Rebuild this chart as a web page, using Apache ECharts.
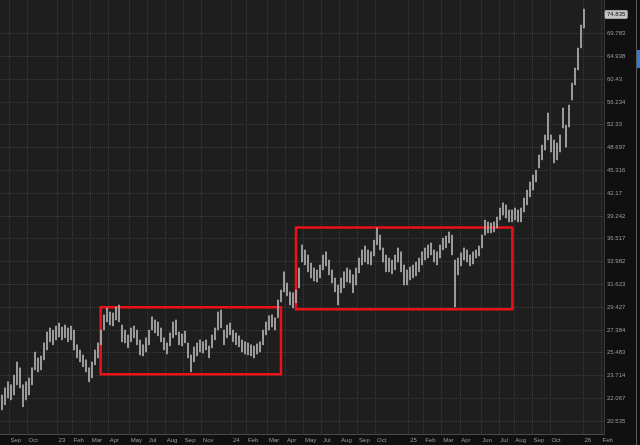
<!DOCTYPE html>
<html>
<head>
<meta charset="utf-8">
<script src="https://cdn.jsdelivr.net/npm/echarts@6/dist/echarts.min.js"></script>
<style>
  html, body { margin: 0; padding: 0; background: #101010; }
  #chart { width: 640px; height: 445px; }
</style>
</head>
<body>
<div id="chart"></div>
<script>
// bar highs / lows (one bar per ~3px)
const highs = [
  22.30, 22.80, 23.24, 23.02, 23.74, 24.75, 24.29, 23.02, 23.24, 23.53,
  24.29, 25.53, 25.06, 25.22, 26.28, 27.20, 27.55, 27.37, 27.72, 27.99,
  27.63, 27.81, 27.55, 27.72, 27.37, 26.12, 25.70, 25.30, 24.91, 24.29,
  24.75, 25.70, 26.28, 27.37, 28.71, 29.34, 28.98, 28.89, 29.43, 29.62,
  27.81, 27.37, 26.95, 27.55, 27.72, 27.37, 26.53, 26.12, 26.70, 27.37,
  28.53, 28.26, 28.08, 27.55, 26.70, 26.28, 27.12, 28.08, 28.26, 27.20,
  27.03, 27.28, 26.28, 25.30, 25.95, 26.28, 26.53, 26.37, 26.53, 26.03,
  26.95, 27.55, 28.98, 29.16, 27.37, 27.81, 27.99, 27.37, 27.12, 26.87,
  26.53, 26.37, 26.28, 26.12, 26.03, 26.20, 26.37, 27.37, 28.08, 28.62,
  28.71, 28.44, 30.10, 31.06, 32.89, 31.75, 30.87, 30.78, 31.06, 33.30,
  35.81, 35.25, 34.69, 33.82, 33.30, 33.09, 33.61, 34.69, 35.03, 34.14,
  33.09, 32.26, 31.55, 32.26, 32.89, 33.30, 33.09, 32.58, 33.30, 34.36,
  35.25, 35.69, 35.25, 35.03, 36.36, 37.78, 36.95, 35.47, 34.69, 34.36,
  34.14, 34.69, 35.47, 35.03, 33.61, 33.09, 33.40, 33.61, 33.92, 34.36,
  35.03, 35.47, 35.81, 36.03, 35.25, 35.03, 35.81, 36.59, 36.83, 37.31,
  36.95, 34.14, 34.36, 34.92, 35.47, 35.25, 34.69, 35.03, 35.25, 35.69,
  36.95, 38.74, 38.50, 38.38, 38.50, 39.10, 40.24, 40.89, 40.63, 39.99,
  39.99, 40.24, 39.99, 40.24, 41.53, 42.58, 43.69, 44.65, 45.35, 47.57,
  49.08, 50.67, 54.32, 50.67, 49.88, 49.40, 50.67, 55.17, 52.27, 55.69,
  59.69, 62.60, 66.68, 71.70, 75.40
]
const lows = [
  21.27, 21.61, 22.08, 21.95, 22.30, 23.02, 22.80, 21.48, 21.95, 22.30,
  23.02, 24.13, 23.98, 24.13, 24.91, 25.70, 26.37, 26.12, 26.53, 26.78,
  26.53, 26.70, 26.37, 26.53, 25.70, 25.06, 24.75, 24.37, 23.98, 23.24,
  23.53, 24.52, 25.06, 26.12, 27.37, 28.08, 27.81, 27.72, 28.26, 28.08,
  26.37, 26.28, 25.87, 26.37, 26.70, 26.12, 25.30, 25.22, 25.53, 26.12,
  27.37, 27.12, 26.87, 26.37, 25.70, 25.37, 26.03, 26.70, 26.95, 26.12,
  26.03, 26.28, 25.06, 23.98, 24.75, 25.22, 25.53, 25.45, 25.70, 25.06,
  25.87, 26.53, 27.37, 27.55, 26.12, 26.70, 26.95, 26.37, 26.12, 25.95,
  25.53, 25.37, 25.30, 25.22, 25.06, 25.37, 25.53, 26.12, 26.95, 27.37,
  27.63, 27.37, 28.44, 29.91, 30.87, 30.49, 29.62, 29.34, 29.81, 31.26,
  33.92, 33.61, 32.89, 32.26, 31.95, 31.85, 32.26, 33.09, 33.51, 32.58,
  31.75, 30.87, 29.62, 30.78, 31.26, 31.85, 31.75, 30.78, 31.55, 32.78,
  33.61, 33.92, 33.71, 33.61, 34.58, 35.81, 35.25, 33.92, 32.89, 32.89,
  32.68, 33.09, 33.92, 32.89, 31.55, 31.55, 32.06, 32.26, 32.47, 32.89,
  33.61, 34.14, 34.36, 34.69, 33.92, 33.61, 34.36, 35.25, 35.47, 36.03,
  34.69, 29.43, 32.58, 33.51, 34.14, 33.92, 33.51, 33.71, 34.36, 34.58,
  35.47, 36.95, 37.19, 37.19, 37.31, 37.78, 38.74, 39.34, 38.98, 38.50,
  38.50, 38.74, 38.50, 38.50, 39.73, 40.63, 41.66, 42.58, 43.69, 45.64,
  46.83, 48.31, 49.88, 48.01, 46.38, 46.83, 48.01, 51.79, 48.76, 51.95,
  56.57, 59.33, 62.21, 66.68, 71.02
]
const lastPrice = 74.835

// price axis tick labels (log spaced)
const yTickLabels = ['20.535', '22.067', '23.714', '25.483', '27.384', '29.427', '31.623', '33.982', '36.517',
  '39.242', '42.17', '45.316', '48.697', '52.33', '56.234', '60.43', '64.938', '69.783']

// x axis: bar slots and the month labels that sit on them
const slotCount = 201
const tickIndex = [3, 9, 19, 24, 30, 36, 43, 49, 55, 61, 67, 77, 82, 89, 95, 101, 107, 113, 119, 125, 136, 141, 147, 153, 160, 166, 171, 177, 183, 194, 200]
const tickLabels = ['Sep', 'Oct', '23', 'Feb', 'Mar', 'Apr', 'May', 'Jul', 'Aug', 'Sep', 'Nov', '24', 'Feb', 'Mar', 'Apr', 'May', 'Jul', 'Aug', 'Sep', 'Oct', '25', 'Feb', 'Mar', 'Apr', 'Jun', 'Jul', 'Aug', 'Sep', 'Oct', '26', 'Feb']

// red boxes: [from slot, to slot, low price, high price]
const boxes = [
  [33, 93, 23.80, 29.40],
  [98, 170, 29.22, 37.84]
]

const lg = (v) => Math.log10(v)
const labelAt = {}
tickIndex.forEach((ix, k) => { labelAt[ix] = tickLabels[k] })
const slots = Array.from({ length: slotCount }, (_, i) => String(i))
const bars = highs.map((h, i) => [lg(lows[i]), lg(h), lg(lows[i]), lg(h)])
const yTickValues = yTickLabels.map((s) => lg(parseFloat(s)))
const yLabelFor = (v) => {
  const k = yTickValues.findIndex((t) => Math.abs(t - v) < 1e-6)
  return k < 0 ? '' : yTickLabels[k]
}

const grey = '#a8a8a8'
const gridLine = { color: '#3a3a3a', type: 'dotted', width: 1 }
const isTick = (i) => labelAt[i] !== undefined

const chart = echarts.init(document.getElementById('chart'))
chart.setOption({
  animation: false,
  backgroundColor: '#101010',
  textStyle: { fontFamily: 'Liberation Sans, Arial, sans-serif' },
  grid: { left: 0, right: 36, top: 0, bottom: 11, show: true, backgroundColor: '#1e1e1e', borderWidth: 0 },
  xAxis: {
    type: 'category',
    data: slots,
    boundaryGap: true,
    axisLine: { lineStyle: { color: '#4a4a4a' } },
    axisTick: { show: false },
    axisLabel: {
      interval: isTick,
      formatter: (v, i) => labelAt[i] || '',
      color: '#9a9a9a',
      fontSize: 6,
      margin: 3,
      align: 'left'
    },
    splitLine: { show: true, interval: isTick, lineStyle: gridLine }
  },
  yAxis: {
    type: 'value',
    position: 'right',
    min: 1.29468,
    max: 1.8898,
    axisLine: { show: true, lineStyle: gridLine },
    axisTick: { show: false, customValues: yTickValues },
    splitLine: { show: true, lineStyle: gridLine },
    axisLabel: {
      customValues: yTickValues,
      color: '#9a9a9a',
      fontSize: 6,
      margin: 3,
      formatter: yLabelFor
    }
  },
  series: [
    {
      type: 'candlestick',
      data: bars,
      barWidth: 1.5,
      itemStyle: { color: grey, color0: grey, borderColor: grey, borderColor0: grey, borderWidth: 0.8 },
      markArea: {
        silent: true,
        itemStyle: { color: 'rgba(0,0,0,0)', borderColor: '#ea1218', borderWidth: 2.5 },
        data: boxes.map((b) => [
          { xAxis: String(b[0]), yAxis: lg(b[3]) },
          { xAxis: String(b[1]), yAxis: lg(b[2]) }
        ])
      },
      markLine: {
        silent: true,
        symbol: 'none',
        lineStyle: { color: 'rgba(0,0,0,0)', width: 0 },
        label: {
          show: true,
          position: 'end',
          distance: 1,
          formatter: String(lastPrice),
          color: '#111',
          fontSize: 6,
          backgroundColor: '#c4c4c4',
          borderColor: '#888',
          borderWidth: 0.5,
          borderRadius: 1,
          padding: [1, 2]
        },
        data: [{ yAxis: lg(lastPrice) }]
      }
    }
  ],
  graphic: [
    { type: 'rect', shape: { x: 636, y: 0, width: 1, height: 445 }, style: { fill: '#5a5a5a' } },
    { type: 'rect', shape: { x: 637, y: 50, width: 3, height: 18 }, style: { fill: '#2a7fd4' } }
  ]
})
</script>
</body>
</html>
